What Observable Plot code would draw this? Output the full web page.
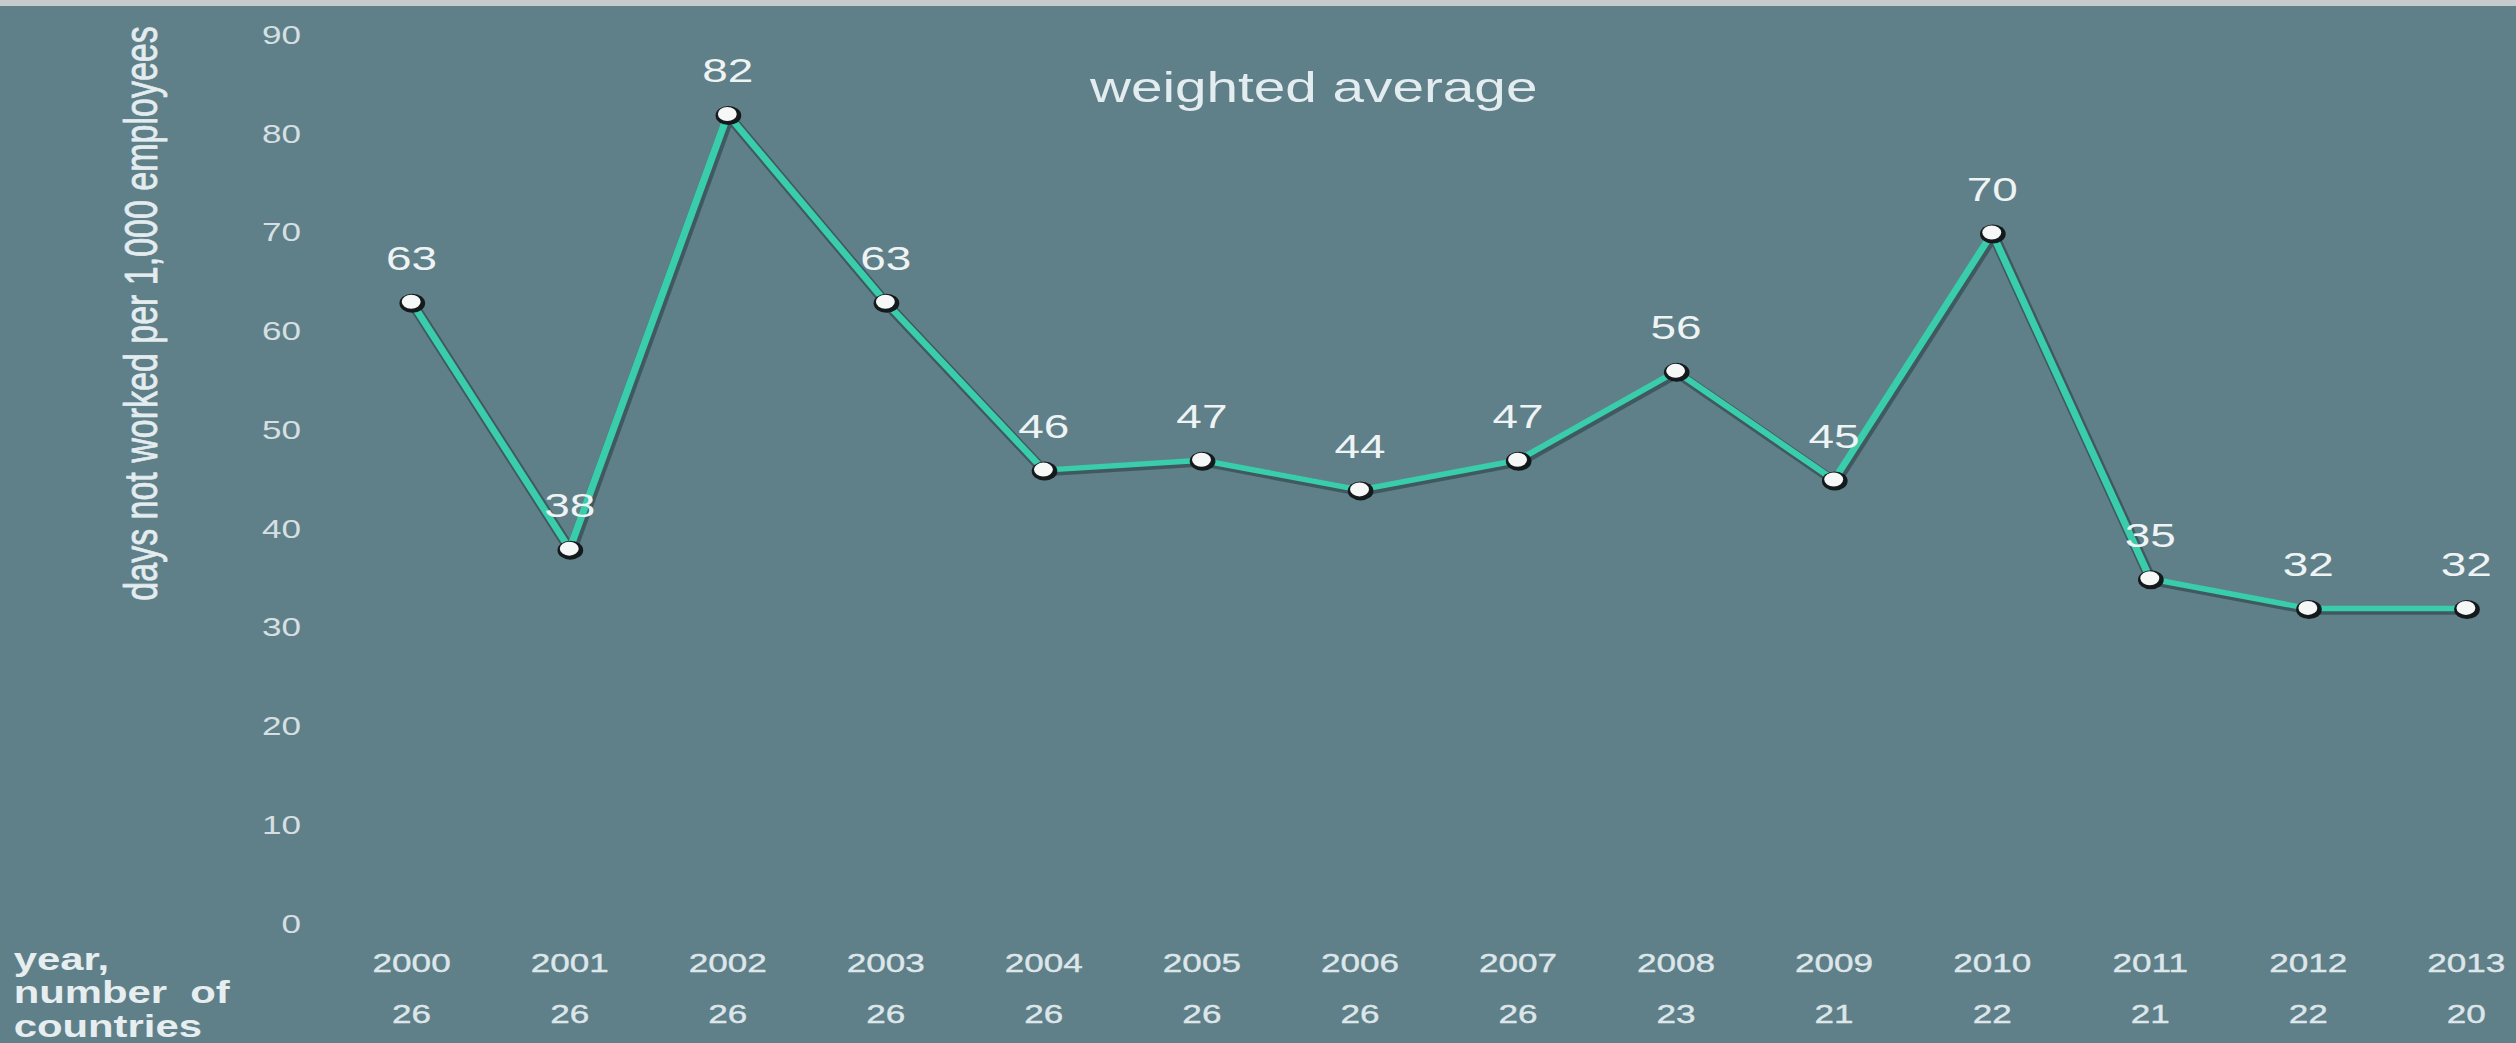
<!DOCTYPE html>
<html>
<head>
<meta charset="utf-8">
<script src="https://cdn.jsdelivr.net/npm/d3@7"></script>
<script src="https://cdn.jsdelivr.net/npm/@observablehq/plot@0.6"></script>
<style>
  html, body { margin: 0; padding: 0; background: #5f7f89; overflow: hidden; }
  #topbar { height: 6px; background: #c8cbcc; }
  #chart svg { display: block; }
</style>
</head>
<body>
<div id="topbar"></div>
<div id="chart"></div>
<script>
// ---- data ----
const years = [2000, 2001, 2002, 2003, 2004, 2005, 2006, 2007, 2008, 2009, 2010, 2011, 2012, 2013];
const values = [63, 38, 82, 63, 46, 47, 44, 47, 56, 45, 70, 35, 32, 32];
const countries = [26, 26, 26, 26, 26, 26, 26, 26, 23, 21, 22, 21, 22, 20];
const yTicks = [0, 10, 20, 30, 40, 50, 60, 70, 80, 90];
const titleText = "weighted average";
const yLabelText = "days not worked per 1,000 employees";
const rowLabelText = "year,\nnumber\u00a0 of\ncountries";

const data = years.map((year, i) => ({ year, value: values[i], countries: countries[i] }));

// ---- layout ----
const W = 2516, H = 1037;       // final on-screen size of the svg
const STRETCH = 1.35;            // the reference is horizontally stretched
const w = W / STRETCH;           // internal (unstretched) width

const bg = "#5f7f89";
const textColor = "#e3ecef";
const font = "'Liberation Sans', Arial, Helvetica, sans-serif";

const mLeft = 304.4, mRight = 37.3, mTop = 29, mBottom = 119;
const frameCenterX = (mLeft + (w - mRight)) / 2;

const chart = Plot.plot({
  width: w,
  height: H,
  marginLeft: mLeft,
  marginRight: mRight,
  marginTop: mTop,
  marginBottom: mBottom,
  style: { background: bg, color: textColor, fontFamily: font },
  x: { domain: [years[0], years[years.length - 1]], axis: null },
  y: { domain: [0, 90], axis: null },
  marks: [
    // y axis tick labels
    Plot.axisY({ ticks: yTicks, tickSize: 0, tickPadding: 82, fontSize: 26, fill: "#d6e0e3",
                 stroke: "#d6e0e3", strokeWidth: 0.3, label: null }),
    // y axis title
    Plot.text([yLabelText], {
      frameAnchor: "top-left", dx: 105 - mLeft, dy: 278, rotate: -90,
      textAnchor: "middle", lineAnchor: "middle", fontSize: 34, fill: textColor,
      stroke: textColor, strokeWidth: 0.6
    }),
    // chart title
    Plot.text([titleText], {
      frameAnchor: "top", dx: 972.6 - frameCenterX, dy: 53,
      lineAnchor: "middle", fontSize: 42, fill: textColor
    }),
    // year labels
    Plot.text(data, {
      x: "year", frameAnchor: "bottom", dy: 39, text: d => String(d.year),
      lineAnchor: "middle", fontSize: 26, fill: "#dde6e9", stroke: "#dde6e9", strokeWidth: 0.4
    }),
    // number of countries
    Plot.text(data, {
      x: "year", frameAnchor: "bottom", dy: 90, text: d => String(d.countries),
      lineAnchor: "middle", fontSize: 26, fill: "#dde6e9", stroke: "#dde6e9", strokeWidth: 0.4
    }),
    // row caption
    Plot.text([rowLabelText], {
      frameAnchor: "bottom-left", dx: 9.6 - mLeft, dy: 21, textAnchor: "start",
      lineAnchor: "top", lineHeight: 1.09, fontSize: 31, fontWeight: "bold", fill: "#e6eef0"
    }),
    // line shadow
    Plot.line(data, { x: "year", y: "value", stroke: "#1b2a2f", strokeOpacity: 0.45, strokeWidth: 8.5, dx: 1, dy: 2 }),
    // line
    Plot.line(data, { x: "year", y: "value", stroke: "#39cdab", strokeWidth: 5.5 }),
    // dot shadow / rim
    Plot.dot(data, { x: "year", y: "value", r: 9.5, fill: "#14191b", dx: 0.5, dy: 1 }),
    // dots
    Plot.dot(data, { x: "year", y: "value", r: 7, fill: "#f6f8f8", dx: -0.3, dy: -0.5 }),
    // value labels
    Plot.text(data, {
      x: "year", y: "value", text: d => String(d.value), dy: -43,
      lineAnchor: "middle", fontSize: 34, fill: "#eef3f4"
    })
  ]
});

// stretch horizontally like the reference image
chart.setAttribute("width", W);
chart.setAttribute("height", H);
chart.setAttribute("preserveAspectRatio", "none");
chart.style.width = W + "px";
chart.style.height = H + "px";
chart.style.maxWidth = "none";

document.getElementById("chart").appendChild(chart);
</script>
</body>
</html>
